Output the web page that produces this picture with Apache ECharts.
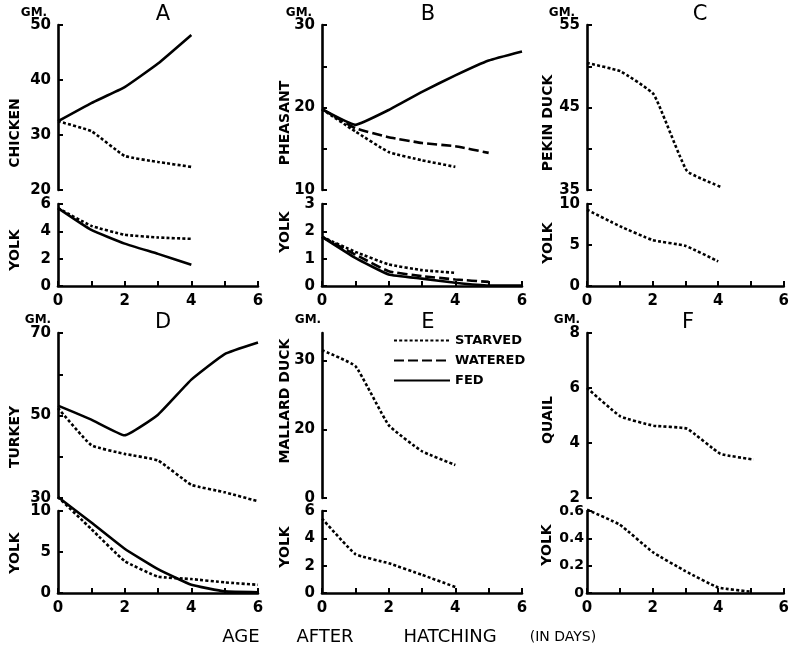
<!DOCTYPE html>
<html><head><meta charset="utf-8">
<script src="https://cdn.jsdelivr.net/npm/echarts@6/dist/echarts.min.js"></script>
<style>html,body{margin:0;padding:0;background:#fff}#c{width:792px;height:647px}</style>
</head><body><div id="c"></div>
<script>
// ---------- DATA ----------
const days = [0, 1, 2, 3, 4, 5, 6];
const xLabelValues = [0, 2, 4, 6];
const panelLetters = ['A', 'B', 'C', 'D', 'E', 'F'];
const birdNames = ['CHICKEN', 'PHEASANT', 'PEKIN DUCK', 'TURKEY', 'MALLARD DUCK', 'QUAIL'];
const legendNames = ['STARVED', 'WATERED', 'FED'];

// A chicken
const chickenFed = [32.5, 35.8, 38.7, 43.0, 48.2];
const chickenStarved = [32.5, 30.7, 26.2, 25.1, 24.2];
const chickenYolkFed = [5.7, 4.1, 3.1, 2.35, 1.55];
const chickenYolkStarved = [5.7, 4.4, 3.75, 3.55, 3.45];
// B pheasant
const pheasantFed = [19.8, 17.9, 19.7, 21.9, 23.9, 25.7, 26.8];
const pheasantWatered = [19.8, 17.5, 16.4, 15.7, 15.3, 14.5];
const pheasantStarved = [19.8, 17.1, 14.6, 13.6, 12.8];
const pheasantYolkFed = [1.8, 1.03, 0.42, 0.27, 0.12, 0.02, 0.02];
const pheasantYolkWatered = [1.8, 1.15, 0.54, 0.36, 0.24, 0.15];
const pheasantYolkStarved = [1.8, 1.25, 0.79, 0.58, 0.48];
// C pekin duck
const pekinStarved = [50.4, 49.4, 46.6, 37.3, 35.4];
const pekinYolkStarved = [9.3, 7.3, 5.6, 4.9, 3.0];
// D turkey
const turkeyFed = [52.4, 49.0, 45.2, 50.2, 58.7, 64.9, 67.7];
const turkeyStarved = [51.8, 42.8, 40.7, 39.1, 33.2, 31.4, 29.2];
const turkeyYolkFed = [11.7, 8.6, 5.4, 2.9, 1.0, 0.2, 0.1];
const turkeyYolkStarved = [11.7, 7.8, 3.9, 2.0, 1.7, 1.3, 1.0];
// E mallard duck
const mallardStarved = [31.5, 29.2, 20.6, 16.8, 14.8];
const mallardYolkStarved = [5.45, 2.85, 2.18, 1.33, 0.44];
// F quail
const quailStarved = [6.0, 4.97, 4.63, 4.52, 3.61, 3.4];
const quailYolkStarved = [0.61, 0.5, 0.3, 0.16, 0.04, 0.01];

// axis ranges, ticks and tick labels
const chickenRange = [20, 50], chickenTicks = [20, 30, 40, 50], chickenLabels = [20, 30, 40, 50];
const pheasantRange = [10, 30], pheasantTicks = [10, 15, 20, 25, 30], pheasantLabels = [10, 20, 30];
const pekinRange = [35, 55], pekinTicks = [35, 40, 45, 50, 55], pekinLabels = [35, 45, 55];
const turkeyRange = [30, 70], turkeyTicks = [30, 40, 50, 60, 70], turkeyLabels = [30, 50, 70];
// mallard axis is broken: bottom tick is labelled 0
const mallardRange = [10, 34], mallardTicks = [10, 20, 30], mallardLabels = [10, 20, 30];
const mallardLabelText = ['0', '20', '30'];
const quailRange = [2, 8], quailTicks = [2, 4, 6, 8], quailLabels = [2, 4, 6, 8];

const chickenYolkRange = [0, 6], chickenYolkTicks = [0, 2, 4, 6];
const pheasantYolkRange = [0, 3], pheasantYolkTicks = [0, 1, 2, 3];
const pekinYolkRange = [0, 10], pekinYolkTicks = [0, 5, 10];
const turkeyYolkRange = [0, 10], turkeyYolkTicks = [0, 5, 10];
const mallardYolkRange = [0, 6], mallardYolkTicks = [0, 2, 4, 6];
const quailYolkRange = [0, 0.6], quailYolkTicks = [0, 0.2, 0.4, 0.6];

// ---------- BUILD ----------
const FONT = 'DejaVu Sans';
const colLeft = [58, 322, 587];
const colWidth = 200;
const rowTop = [25, 333], topH = 165;
const yolkTop = [204, 511], yolkH = 82;

const styles = {
  STARVED: { type: [3, 2.2], width: 2.6 },
  WATERED: { type: [10, 4], width: 2.6 },
  FED: { type: 'solid', width: 2.6 }
};

const panels = [
  { range: chickenRange, ticks: chickenTicks, labels: chickenLabels, yRange: chickenYolkRange, yTicks: chickenYolkTicks,
    top: [['FED', chickenFed], ['STARVED', chickenStarved]], yolk: [['FED', chickenYolkFed], ['STARVED', chickenYolkStarved]] },
  { range: pheasantRange, ticks: pheasantTicks, labels: pheasantLabels, yRange: pheasantYolkRange, yTicks: pheasantYolkTicks,
    top: [['FED', pheasantFed], ['WATERED', pheasantWatered], ['STARVED', pheasantStarved]],
    yolk: [['FED', pheasantYolkFed], ['WATERED', pheasantYolkWatered], ['STARVED', pheasantYolkStarved]] },
  { range: pekinRange, ticks: pekinTicks, labels: pekinLabels, yRange: pekinYolkRange, yTicks: pekinYolkTicks,
    top: [['STARVED', pekinStarved]], yolk: [['STARVED', pekinYolkStarved]] },
  { range: turkeyRange, ticks: turkeyTicks, labels: turkeyLabels, yRange: turkeyYolkRange, yTicks: turkeyYolkTicks,
    top: [['FED', turkeyFed], ['STARVED', turkeyStarved]], yolk: [['FED', turkeyYolkFed], ['STARVED', turkeyYolkStarved]] },
  { range: mallardRange, ticks: mallardTicks, labels: mallardLabels, labelText: mallardLabelText, yRange: mallardYolkRange, yTicks: mallardYolkTicks,
    top: [['STARVED', mallardStarved]], yolk: [['STARVED', mallardYolkStarved]] },
  { range: quailRange, ticks: quailTicks, labels: quailLabels, yRange: quailYolkRange, yTicks: quailYolkTicks, yolkSmall: true,
    top: [['STARVED', quailStarved]], yolk: [['STARVED', quailYolkStarved]] }
];

const grid = [], xAxis = [], yAxis = [], series = [];
const labelStyle = { fontFamily: FONT, fontWeight: 'bold', fontSize: 15, color: '#000' };

function yAx(gi, range, ticks, labels, texts, small) {
  return {
    gridIndex: gi, type: 'value', min: range[0], max: range[1],
    axisLine: { show: true, lineStyle: { color: '#000', width: 2.6 } },
    axisTick: { show: true, inside: true, length: 5, lineStyle: { color: '#000', width: 2 }, customValues: ticks },
    axisLabel: Object.assign({ customValues: labels,
      formatter: v => texts ? texts[labels.indexOf(v)] : String(v) }, labelStyle,
      small ? { fontSize: 14, margin: 3 } : { margin: 7 }),
    splitLine: { show: false }
  };
}

panels.forEach((p, i) => {
  const col = i % 3, row = Math.floor(i / 3);
  const gTop = i * 2, gYolk = i * 2 + 1;
  grid.push({ left: colLeft[col], width: colWidth, top: rowTop[row], height: topH });
  grid.push({ left: colLeft[col], width: colWidth, top: yolkTop[row], height: yolkH });
  xAxis.push({ gridIndex: gTop, type: 'value', min: 0, max: 6, show: false });
  xAxis.push({
    gridIndex: gYolk, type: 'value', min: 0, max: 6, interval: 1,
    axisLine: { show: true, lineStyle: { color: '#000', width: 2.6 } },
    axisTick: { show: true, inside: true, length: 5, lineStyle: { color: '#000', width: 2 } },
    axisLabel: Object.assign({ margin: 8, customValues: xLabelValues }, labelStyle),
    splitLine: { show: false }
  });
  yAxis.push(yAx(gTop, p.range, p.ticks, p.labels, p.labelText, false));
  yAxis.push(yAx(gYolk, p.yRange, p.yTicks, p.yTicks, null, p.yolkSmall));
  [[p.top, gTop], [p.yolk, gYolk]].forEach(([list, gi]) => {
    list.forEach(([name, arr]) => {
      series.push({
        type: 'line', name, xAxisIndex: gi, yAxisIndex: gi,
        data: arr.map((v, k) => [days[k], v]),
        symbol: 'none', showSymbol: false, smooth: 0.12, clip: false, silent: true,
        itemStyle: { color: '#000', opacity: 0 },
        lineStyle: Object.assign({ color: '#000', cap: 'butt' }, styles[name])
      });
    });
  });
});

const graphic = [];
const letterPos = [[163, 15], [428, 15], [700, 15], [163, 323], [428, 323], [688, 323]];
const gmPos = [[34, 13], [299, 13], [562, 13], [38, 320], [308, 320], [567, 320]];
const namePos = [[15, 133], [285, 123], [548, 123], [15, 437], [285, 401], [548, 420]];
const yolkPos = [[15, 250], [285, 232], [548, 243], [15, 553], [285, 547], [547, 545]];
panelLetters.forEach((L, i) => {
  graphic.push({ type: 'text', x: letterPos[i][0], y: letterPos[i][1],
    style: { text: L, fontFamily: FONT, fontSize: 21, fill: '#000', align: 'center', verticalAlign: 'middle' } });
  graphic.push({ type: 'text', x: gmPos[i][0], y: gmPos[i][1],
    style: { text: 'GM.', fontFamily: FONT, fontWeight: 'bold', fontSize: 12, fill: '#000', align: 'center', verticalAlign: 'middle' } });
  graphic.push({ type: 'text', x: namePos[i][0], y: namePos[i][1], rotation: Math.PI / 2,
    style: { text: birdNames[i], fontFamily: FONT, fontWeight: 'bold', fontSize: 14, fill: '#000', align: 'center', verticalAlign: 'middle' } });
  graphic.push({ type: 'text', x: yolkPos[i][0], y: yolkPos[i][1], rotation: Math.PI / 2,
    style: { text: 'YOLK', fontFamily: FONT, fontWeight: 'bold', fontSize: 14, fill: '#000', align: 'center', verticalAlign: 'middle' } });
});
// x axis title
[['AGE', 241, 18], ['AFTER', 325, 18], ['HATCHING', 450, 18], ['(IN DAYS)', 563, 14]].forEach(([t, x, fs]) => {
  graphic.push({ type: 'text', x, y: 637,
    style: { text: t, fontFamily: FONT, fontSize: fs, fill: '#000', align: 'center', verticalAlign: 'middle' } });
});

const chart = echarts.init(document.getElementById('c'), null, { renderer: 'canvas' });
chart.setOption({
  animation: false,
  backgroundColor: '#fff',
  grid, xAxis, yAxis, series, graphic,
  legend: {
    data: legendNames, orient: 'vertical', left: 388, top: 329, itemWidth: 56, itemHeight: 14, itemGap: 7,
    selectedMode: false,
    itemStyle: { opacity: 0 },
    textStyle: { fontFamily: FONT, fontWeight: 'bold', fontSize: 13, color: '#000' }
  }
});
</script></body></html>
